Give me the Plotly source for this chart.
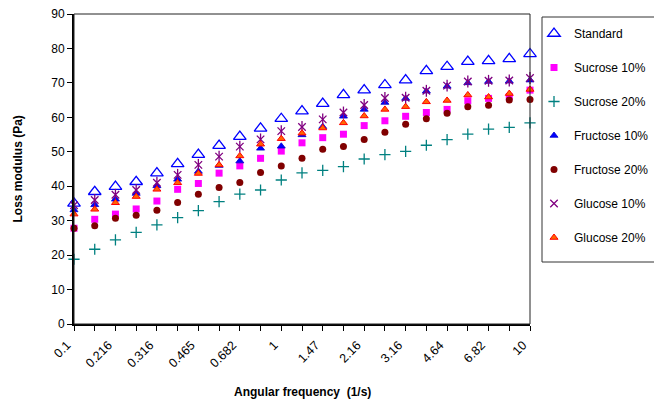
import plotly.graph_objects as go

# Angular frequency categories (1/s); only every other one is labelled in the chart
frequencies = ["0.1", "0.147", "0.216", "0.261", "0.316", "0.383", "0.465", "0.562",
               "0.682", "0.825", "1", "1.21", "1.47", "1.78", "2.16", "2.61",
               "3.16", "3.83", "4.64", "5.62", "6.82", "8.25", "10"]
tick_labels = ["0.1", "", "0.216", "", "0.316", "", "0.465", "", "0.682", "", "1", "",
               "1.47", "", "2.16", "", "3.16", "", "4.64", "", "6.82", "", "10"]

standard = [35.0, 38.4, 39.9, 41.3, 43.8, 46.5, 49.2, 51.8, 54.4, 56.8, 59.6, 61.8,
            64.0, 66.5, 67.9, 69.4, 70.8, 73.5, 74.7, 76.2, 76.4, 77.0, 78.4]
sucrose10 = [27.8, 30.4, 31.9, 33.4, 35.7, 39.1, 40.8, 43.8, 45.9, 48.1, 50.2, 52.6,
             54.1, 55.1, 57.6, 59.0, 60.3, 61.4, 62.3, 64.8, 65.5, 66.0, 67.9]
sucrose20 = [18.8, 21.7, 24.4, 26.6, 28.8, 30.9, 32.9, 35.5, 37.7, 38.9, 41.8, 43.9,
             44.6, 45.7, 47.9, 49.2, 50.1, 51.9, 53.5, 55.1, 56.6, 57.1, 58.4]
fructose10 = [33.1, 34.6, 36.2, 37.9, 40.1, 42.0, 44.3, 46.0, 47.3, 51.0, 51.6, 54.9,
              57.3, 60.3, 62.3, 64.3, 65.5, 67.6, 69.0, 70.0, 70.4, 70.5, 70.8]
fructose20 = [27.8, 28.5, 30.7, 31.6, 33.0, 35.3, 37.7, 39.6, 41.1, 44.0, 45.9, 48.1,
              50.7, 51.5, 53.6, 55.7, 58.0, 59.6, 61.2, 63.1, 63.5, 65.0, 65.2]
glucose10 = [34.5, 36.0, 37.5, 38.9, 41.0, 43.3, 46.2, 48.6, 51.5, 53.6, 56.0, 57.2,
             59.4, 61.4, 63.6, 65.6, 65.7, 67.7, 69.2, 70.4, 70.6, 70.7, 71.4]
glucose20 = [31.9, 33.3, 35.2, 37.0, 39.1, 41.0, 43.7, 46.2, 48.8, 52.2, 53.8, 55.4,
             56.9, 58.4, 60.4, 62.3, 63.1, 64.5, 64.9, 66.5, 65.9, 66.9, 68.1]

x = list(range(len(frequencies)))
FONT = "Liberation Sans, Arial, sans-serif"

fig = go.Figure()

def add(name, y, symbol, size, color, line_color=None, line_width=0, showlegend=True, group=None):
    fig.add_trace(go.Scatter(
        x=x, y=y, mode="markers", name=name, showlegend=showlegend,
        legendgroup=group or name, cliponaxis=False,
        marker=dict(symbol=symbol, size=size, color=color,
                    line=dict(color=line_color or color, width=line_width)),
        customdata=frequencies,
        hovertemplate="%{customdata} 1/s: %{y} Pa<extra>" + name + "</extra>",
    ))

add("Standard", standard, "triangle-up-open", 11, "#0000FF", line_width=1.3)
add("Sucrose 10%", sucrose10, "square", 7, "#FF00FF")
add("Sucrose 20%", sucrose20, "cross-thin-open", 8, "#008080", line_width=1.3)
add("Fructose 10%", fructose10, "triangle-up", 7, "#0000FF", line_color="#0000CC", line_width=0.8)
add("Fructose 20%", fructose20, "circle", 7, "#800000")
add("Glucose 10%", glucose10, "x-thin-open", 7.5, "#800080", line_width=1.3)
add("Glucose 10%", glucose10, "line-ns-open", 8.5, "#800080", line_width=1.3,
    showlegend=False, group="Glucose 10%")
add("Glucose 20%", glucose20, "triangle-up", 7, "#FF6600", line_color="#FF0000", line_width=1)

# The page adds an 8px body margin: plot area sits at page x 74..530, y 14..324
OFF = 8
W, H = 662, 401
L, T = 74 - OFF, 14 - OFF
R = W - (530 - OFF)
B = H - (324 - OFF)
PW, PH = 530 - 74, 324 - 14

fig.update_layout(
    width=W, height=H,
    margin=dict(l=L, r=R, t=T, b=B, autoexpand=False),
    paper_bgcolor="white", plot_bgcolor="white",
    font=dict(family=FONT, size=12, color="black"),
    showlegend=True,
    legend=dict(
        x=(534 - 74) / PW, y=(324 - 19) / PH, xanchor="left", yanchor="top",
        borderwidth=0, bgcolor="rgba(0,0,0,0)",
        traceorder="grouped", tracegroupgap=15,
        font=dict(family=FONT, size=12, color="black"),
        itemwidth=30,
    ),
    xaxis=dict(
        range=[0, len(frequencies) - 1], tickmode="array", tickvals=x, ticktext=tick_labels,
        tickangle=-45, ticks="outside", ticklen=5, tickcolor="black", tickwidth=1,
        showline=True, linecolor="black", linewidth=2, showgrid=False, zeroline=False,
        automargin=False, ticklabeloverflow="allow",
        ticklabelshift=-7, ticklabelstandoff=2,
        tickfont=dict(family=FONT, size=12.5, color="black"),
    ),
    yaxis=dict(
        range=[0, 90], dtick=10, ticks="outside", ticklen=5, tickcolor="black",
        showline=True, linecolor="black", linewidth=2, showgrid=False, zeroline=False,
        automargin=False, ticklabeloverflow="allow",
        tickfont=dict(family=FONT, size=12, color="black"),
    ),
    shapes=[
        dict(type="rect", xref="paper", yref="paper", x0=0, x1=1, y0=0, y1=1,
             line=dict(color="#222222", width=1), layer="above"),
        dict(type="rect", xref="paper", yref="paper",
             x0=(542 - 74) / PW, x1=(672 - 74) / PW,
             y0=(324 - 262) / PH, y1=(324 - 17) / PH,
             line=dict(color="#333333", width=1), fillcolor="white", layer="below"),
    ],
    annotations=[
        dict(text="<b>Angular frequency\u00a0 (1/s)</b>", xref="paper", yref="paper",
             x=0.5, y=(324 - 392) / PH, xanchor="center", yanchor="middle",
             showarrow=False, font=dict(family=FONT, size=12, color="black")),
        dict(text="<b>Loss modulus (Pa)</b>", xref="paper", yref="paper",
             x=(17.5 - 74) / PW, y=0.5, xanchor="center", yanchor="middle",
             textangle=-90, showarrow=False, font=dict(family=FONT, size=12, color="black")),
    ],
)

fig.write_html("out.html")
